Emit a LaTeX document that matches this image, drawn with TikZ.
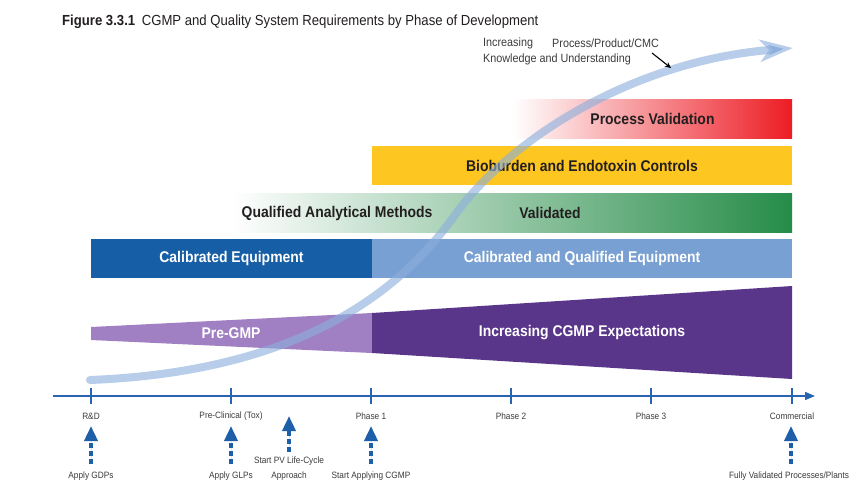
\documentclass[tikz,border=0pt]{standalone}
\usepackage{fontspec}
\setmainfont{Liberation Sans}[FakeStretch=0.9]
\usetikzlibrary{arrows.meta}
\definecolor{pvred}{RGB}{237,28,36}
\definecolor{bioyellow}{RGB}{253,198,33}
\definecolor{valgreen}{RGB}{38,140,72}
\definecolor{dblue}{RGB}{22,94,166}
\definecolor{lblue}{RGB}{120,160,210}
\definecolor{lpurple}{RGB}{160,128,194}
\definecolor{dpurple}{RGB}{90,54,138}
\definecolor{axisblue}{RGB}{40,100,175}
\definecolor{arrowblue}{RGB}{30,95,170}
\definecolor{curveblue}{RGB}{140,175,220}
\definecolor{textdark}{RGB}{35,31,32}
\definecolor{labelgray}{RGB}{60,60,60}
\begin{document}
\begin{tikzpicture}[x=1pt,y=-1pt,
  bar/.style={draw=none, inner sep=0pt, minimum height=39pt},
  barlabel/.style={font=\fontsize{15.5}{17}\selectfont\bfseries, inner sep=0pt},
  small/.style={font=\fontsize{9.2}{10}\selectfont, text=labelgray, inner sep=0pt},
  toplabel/.style={font=\fontsize{12}{13}\selectfont, text=labelgray, inner sep=0pt, anchor=west},
  axtick/.style={draw=axisblue, line width=1.3pt},
  uparrow/.style={draw=arrowblue, fill=arrowblue, line width=3.5pt, dash pattern=on 5pt off 3pt, -{Triangle[length=15pt,width=13pt]}},
  growth/.style={draw=curveblue, draw opacity=0.62, line width=8pt, line cap=round, -{Stealth[length=33pt,width=22pt,inset=9pt]}},
]
\useasboundingbox (0,0) rectangle (858,488);
\fill[white] (0,0) rectangle (858,488);

% title
\node[anchor=west, inner sep=0pt, text=textdark, font=\fontsize{14.6}{16}\selectfont] (title) at (62,22)
  {{\bfseries Figure 3.3.1}\hspace{0.45em}CGMP and Quality System Requirements by Phase of Development};

% bars
\node[bar, minimum width=279pt, left color=white, right color=pvred, text=textdark, font=\fontsize{15.5}{17}\selectfont\bfseries] (pv) at (652.5,118.5) {Process Validation};
\node[bar, minimum width=420pt, fill=bioyellow, text=textdark, font=\fontsize{15.5}{17}\selectfont\bfseries] (bio) at (582,165.5) {Bioburden and Endotoxin Controls};
\node[bar, minimum width=560pt, left color=white, right color=valgreen] (val) at (512,212.5) {};
\node[bar, minimum width=281pt, fill=dblue, text=white, font=\fontsize{15.5}{17}\selectfont\bfseries] (ce) at (231.5,258) {Calibrated Equipment};
\node[bar, minimum width=420pt, fill=lblue, text=white, font=\fontsize{15.5}{17}\selectfont\bfseries] (cqe) at (582,258) {Calibrated and Qualified Equipment};

% wedges
\fill[lpurple] (91,327) -- (372,313) -- (372,353) -- (91,340) -- cycle;
\fill[dpurple] (372,313) -- (792,286) -- (792,379) -- (372,353) -- cycle;

% growth curve
\coordinate (cs) at (90,380);
\coordinate (cm) at (455,215);
\coordinate (ce2) at (793,48);
\draw[growth] (cs) .. controls (290,372) and (395,299) .. (cm)
  .. controls (505,145) and (625,62) .. (ce2);

% bar texts
\node[barlabel, text=textdark] (qam) at (337,213) {Qualified Analytical Methods};
\node[barlabel, text=textdark] (valt) at (550,213) {Validated};
\node[barlabel, text=white] (pregmp) at (231,333) {Pre-GMP};
\node[barlabel, text=white] (cgmpexp) at (582,333) {Increasing CGMP Expectations};

% top label
\node[toplabel] (inc) at (483,43) {Increasing};
\node[toplabel] (ppc) at (552,43) {Process/Product/CMC};
\node[toplabel] (kau) at (483,59) {Knowledge and Understanding};
\coordinate (ka1) at (652,53);
\coordinate (ka2) at (671,68);
\draw[black, line width=1.1pt, -{Stealth[length=6pt,width=5.5pt]}] (ka1) -- (ka2);

% axis
\coordinate (axs) at (53,396);
\coordinate (axe) at (815,396);
\draw[draw=axisblue, line width=1.3pt, -{Triangle[length=10pt,width=8pt]}] (axs) -- (axe);
\foreach \x in {91,231,371,511,651,792}{
  \draw[axtick] (\x,388) -- (\x,404);
}

% axis labels
\node[small] (rd) at (91,416) {R\&D};
\node[small] (pc) at (231,416) {Pre-Clinical (Tox)};
\node[small] (ph1) at (371,416) {Phase 1};
\node[small] (ph2) at (511,416) {Phase 2};
\node[small] (ph3) at (651,416) {Phase 3};
\node[small] (com) at (792,416) {Commercial};

% bottom labels
\node[small] (gdp) at (91,476) {Apply GDPs};
\node[small] (glp) at (231,476) {Apply GLPs};
\node[small] (pvl1) at (289,461) {Start PV Life-Cycle};
\node[small] (pvl2) at (289,476) {Approach};
\node[small] (cgmp) at (371,476) {Start Applying CGMP};
\node[small] (fv) at (789,476) {Fully Validated Processes/Plants};

% dashed arrows
\coordinate (u1s) at (91,464);  \coordinate (u1e) at (91,426);
\coordinate (u2s) at (231,464); \coordinate (u2e) at (231,426);
\coordinate (u3s) at (289,452); \coordinate (u3e) at (289,416);
\coordinate (u4s) at (371,464); \coordinate (u4e) at (371,426);
\coordinate (u5s) at (791,464); \coordinate (u5e) at (791,426);
\draw[uparrow] (u1s) -- (u1e);
\draw[uparrow] (u2s) -- (u2e);
\draw[uparrow] (u3s) -- (u3e);
\draw[uparrow] (u4s) -- (u4e);
\draw[uparrow] (u5s) -- (u5e);
\end{tikzpicture}
\end{document}
